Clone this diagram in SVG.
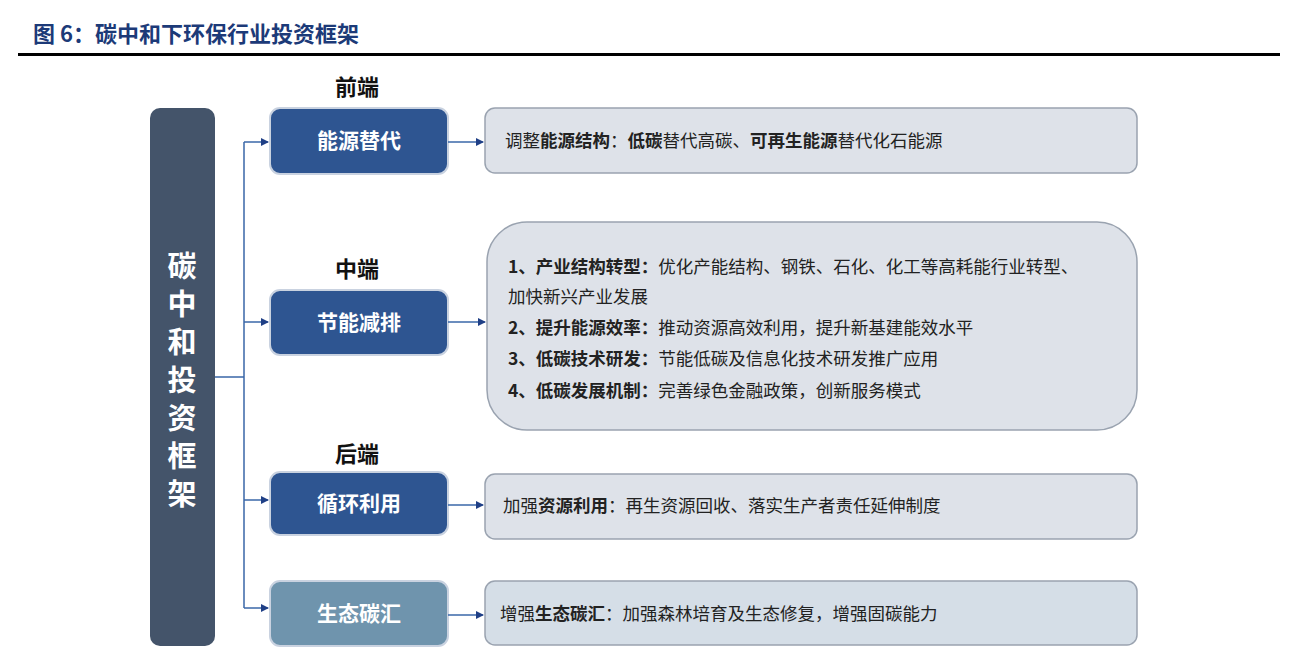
<svg xmlns="http://www.w3.org/2000/svg" width="1290" height="664" viewBox="0 0 1290 664">
<style>
text{font-family:"Noto Sans CJK SC","Noto Sans",sans-serif}
.l{fill:#2e5591;stroke:#c9d2e0;stroke-width:2}
.r{fill:#dee2e9;stroke:#9aa3b0;stroke-width:1.5}
.lt{fill:#fff;font-size:21px;font-weight:bold;text-anchor:middle}
.rt{fill:#222;font-size:17.5px}
.h{fill:#111;font-size:22px;font-weight:bold;text-anchor:middle}
.v{fill:#fff;font-size:29px;font-weight:bold;text-anchor:middle}
.c{fill:none;stroke:#3a67a8;stroke-width:1.5}
</style>
<defs><marker id="a" markerWidth="8" markerHeight="8" refX="7" refY="4" orient="auto" markerUnits="userSpaceOnUse"><path d="M0,0L8,4L0,8z" fill="#1f3f86"/></marker></defs>
<rect width="1290" height="664" fill="#fff"/>
<text x="33" y="42" font-family="Noto Serif CJK SC,Noto Sans CJK SC,serif" font-size="22" font-weight="bold" fill="#1c3a78">图 6：碳中和下环保行业投资框架</text>
<rect x="18" y="53" width="1262" height="3" fill="#000"/>
<g id="bar"><rect x="150" y="108" width="65" height="538" rx="10" fill="#44546a"/>
<text class="v" x="182" y="277">碳</text><text class="v" x="182" y="315">中</text><text class="v" x="182" y="353">和</text><text class="v" x="182" y="391">投</text><text class="v" x="182" y="429">资</text><text class="v" x="182" y="467">框</text><text class="v" x="182" y="505">架</text></g>
<text class="h" x="357" y="95">前端</text><text class="h" x="357" y="277">中端</text><text class="h" x="357" y="462">后端</text>
<g id="n1"><rect class="l" x="270" y="108" width="178" height="66" rx="10"/><text class="lt" x="359" y="148">能源替代</text></g>
<g id="n2"><rect class="l" x="270" y="290" width="178" height="65" rx="10"/><text class="lt" x="359" y="330">节能减排</text></g>
<g id="n3"><rect class="l" x="270" y="472" width="178" height="63" rx="10"/><text class="lt" x="359" y="511">循环利用</text></g>
<g id="n4"><rect x="270" y="581" width="178" height="65" rx="10" fill="#6f94ad" stroke="#c9d2e0" stroke-width="2"/><text class="lt" x="359" y="621">生态碳汇</text></g>
<g id="d1"><rect class="r" x="485" y="108" width="652" height="65" rx="10"/><text class="rt" x="505" y="147">调整<tspan font-weight="bold">能源结构</tspan>：<tspan font-weight="bold">低碳</tspan>替代高碳、<tspan font-weight="bold">可再生能源</tspan>替代化石能源</text></g>
<g id="d2"><rect class="r" x="487" y="222" width="650" height="208" rx="40"/>
<text class="rt" x="508" y="273"><tspan font-weight="bold">1、产业结构转型：</tspan>优化产能结构、钢铁、石化、化工等高耗能行业转型、</text>
<text class="rt" x="508" y="303">加快新兴产业发展</text>
<text class="rt" x="508" y="334"><tspan font-weight="bold">2、提升能源效率：</tspan>推动资源高效利用，提升新基建能效水平</text>
<text class="rt" x="508" y="365"><tspan font-weight="bold">3、低碳技术研发：</tspan>节能低碳及信息化技术研发推广应用</text>
<text class="rt" x="508" y="397"><tspan font-weight="bold">4、低碳发展机制：</tspan>完善绿色金融政策，创新服务模式</text></g>
<g id="d3"><rect class="r" x="485" y="474" width="652" height="65" rx="10"/><text class="rt" x="503" y="512">加强<tspan font-weight="bold">资源利用</tspan>：再生资源回收、落实生产者责任延伸制度</text></g>
<g id="d4"><rect x="485" y="581" width="652" height="64" rx="10" fill="#d5dee7" stroke="#9aa3b0" stroke-width="1.5"/><text class="rt" x="500" y="620">增强<tspan font-weight="bold">生态碳汇</tspan>：加强森林培育及生态修复，增强固碳能力</text></g>
<g id="connectors">
<path class="c" d="M215,377H244M244,142V608"/>
<path class="c" d="M244,142H268" marker-end="url(#a)"/>
<path class="c" d="M244,322H268" marker-end="url(#a)"/>
<path class="c" d="M244,500H268" marker-end="url(#a)"/>
<path class="c" d="M244,608H268" marker-end="url(#a)"/>
<path class="c" d="M448,142H483" marker-end="url(#a)"/>
<path class="c" d="M448,322H485" marker-end="url(#a)"/>
<path class="c" d="M448,505H483" marker-end="url(#a)"/>
<path class="c" d="M448,615H483" marker-end="url(#a)"/>
</g>
</svg>
